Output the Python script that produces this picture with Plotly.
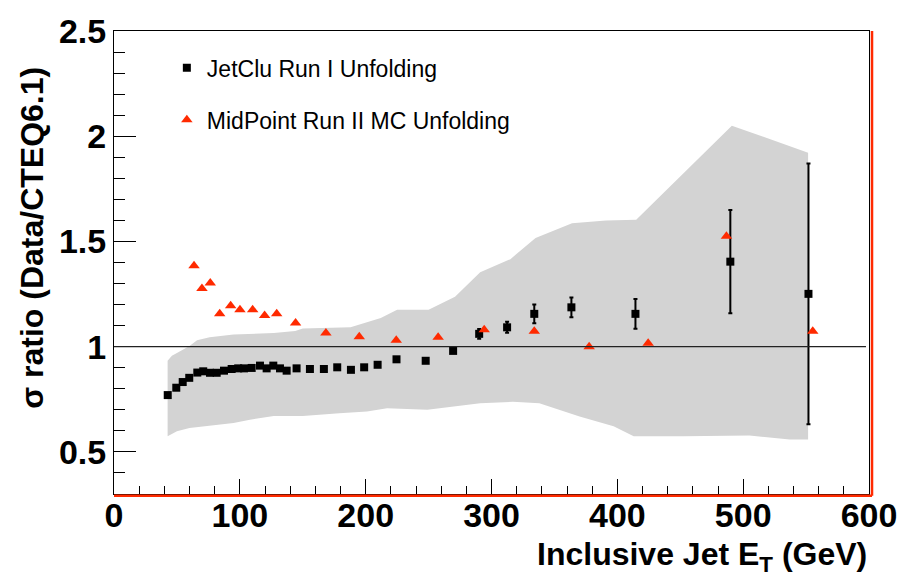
import plotly.graph_objects as go

# JetClu Run I unfolding: ratio data / CTEQ6.1 with statistical errors
jetclu_et = [42.7, 49.5, 54.6, 59.8, 66.2, 70.9, 76.3, 81.6, 87.4, 93.5, 98.7, 103.3,
             109.4, 116.0, 121.3, 126.6, 131.9, 137.2, 145.1, 155.7, 166.8, 177.4, 188.3,
             198.8, 209.5, 224.5, 247.7, 269.5, 290.2, 312.4, 334.0, 363.5, 414.4, 489.8, 551.9]
jetclu_ratio = [0.770, 0.805, 0.832, 0.852, 0.877, 0.883, 0.876, 0.876, 0.886, 0.894, 0.897, 0.897,
                0.899, 0.910, 0.897, 0.910, 0.897, 0.886, 0.897, 0.894, 0.894, 0.902, 0.890,
                0.902, 0.914, 0.940, 0.933, 0.980, 1.061, 1.092, 1.156, 1.187, 1.156, 1.404, 1.251]
jetclu_err = [0.003, 0.003, 0.003, 0.003, 0.003, 0.003, 0.003, 0.003, 0.003, 0.003, 0.003, 0.003,
              0.003, 0.003, 0.003, 0.003, 0.003, 0.003, 0.003, 0.003, 0.004, 0.004, 0.004,
              0.005, 0.005, 0.006, 0.008, 0.010, 0.023, 0.026, 0.045, 0.047, 0.071, 0.245, 0.620]

# MidPoint Run II MC unfolding
midpoint_et = [63.6, 69.9, 76.5, 84.0, 92.7, 100.1, 110.2, 119.7, 129.3, 144.3,
               168.4, 194.9, 224.3, 257.6, 294.2, 334.0, 377.6, 424.5, 486.7, 555.3]
midpoint_ratio = [1.385, 1.276, 1.302, 1.156, 1.195, 1.175, 1.175, 1.148, 1.156, 1.112,
                  1.065, 1.047, 1.030, 1.045, 1.081, 1.073, 1.000, 1.016, 1.525, 1.073]

# Systematic uncertainty band (upper and lower edges)
band_upper_et = [42.6, 46, 50, 56, 60, 66, 76, 95, 127, 144, 150, 188, 212, 225, 250,
                 271, 291, 315, 335, 364, 391, 415, 491, 551.6]
band_upper = [0.933, 0.957, 0.970, 0.990, 1.003, 1.030, 1.045, 1.058, 1.065, 1.075, 1.086,
              1.092, 1.136, 1.175, 1.175, 1.237, 1.354, 1.416, 1.517, 1.587, 1.600, 1.603,
              2.050, 1.922]
band_lower_et = [42.6, 50, 60, 76, 95, 108, 127, 150, 179, 201, 217, 249, 270, 291, 317,
                 338, 370, 397, 413, 452, 505, 521, 537, 551.6]
band_lower = [0.575, 0.598, 0.614, 0.625, 0.637, 0.653, 0.671, 0.671, 0.684, 0.692, 0.707,
              0.700, 0.715, 0.731, 0.738, 0.731, 0.668, 0.622, 0.575, 0.575, 0.578, 0.567,
              0.559, 0.559]

x_ticks = [0, 100, 200, 300, 400, 500, 600]
y_ticks = [0.5, 1, 1.5, 2, 2.5]

RED = "#ff2a00"
BAND = "#d3d3d3"
FONT = "Liberation Sans, Arial, sans-serif"

fig = go.Figure()

# closed polygon for the band: upper edge left->right, lower edge right->left
fig.add_trace(go.Scatter(
    x=band_upper_et + band_lower_et[::-1],
    y=band_upper + band_lower[::-1],
    fill="toself", fillcolor=BAND, mode="lines",
    line=dict(width=0, color=BAND), hoverinfo="skip", showlegend=False,
))

fig.add_trace(go.Scatter(
    x=jetclu_et, y=jetclu_ratio, mode="markers",
    name="JetClu Run I Unfolding",
    marker=dict(symbol="square", size=8, color="black"),
    error_y=dict(type="data", array=jetclu_err, color="black", thickness=2, width=2),
    legendgroup="a",
))

fig.add_trace(go.Scatter(
    x=midpoint_et, y=midpoint_ratio, mode="markers",
    name="MidPoint Run II MC Unfolding",
    marker=dict(symbol="triangle-up", size=10, color=RED),
    legendgroup="b",
))

# reference line at ratio = 1
fig.add_shape(type="line", xref="x domain", yref="y", x0=0, x1=0.996, y0=1, y1=1,
              line=dict(color="#222222", width=1.3), layer="above")
# red frame edges on the bottom and right
fig.add_shape(type="line", xref="x domain", yref="y domain", x0=0, x1=1.004, y0=-0.004, y1=-0.004,
              line=dict(color=RED, width=2.5), layer="above")
fig.add_shape(type="line", xref="x domain", yref="y domain", x0=1.004, x1=1.004, y0=-0.004, y1=1,
              line=dict(color=RED, width=2.5), layer="above")

tick_font = dict(family=FONT, size=34, color="black", weight="bold")

fig.update_xaxes(
    range=[0, 600], tickvals=x_ticks, ticktext=[str(v) for v in x_ticks],
    ticks="inside", ticklen=15, tickwidth=1, tickcolor="black",
    minor=dict(ticks="inside", ticklen=8, dtick=20, tickcolor="black", tickwidth=1, showgrid=False),
    showline=True, linecolor="black", linewidth=1, mirror=True,
    showgrid=False, zeroline=False, tickfont=tick_font, ticklabelstandoff=-9,
)
fig.update_yaxes(
    range=[0.3, 2.5], tickvals=y_ticks, ticktext=["0.5", "1", "1.5", "2", "2.5"],
    ticks="inside", ticklen=22, tickwidth=1, tickcolor="black",
    minor=dict(ticks="inside", ticklen=11, dtick=0.1, tickcolor="black", tickwidth=1, showgrid=False),
    showline=True, linecolor="black", linewidth=1, mirror=True,
    showgrid=False, zeroline=False, tickfont=tick_font,
)

title_font = dict(family=FONT, size=32, color="black", weight="bold")
fig.add_annotation(text="Inclusive Jet E<sub>T</sub> (GeV)", xref="paper", yref="paper",
                   x=1.0, y=-0.135, xanchor="right", yanchor="middle",
                   showarrow=False, font=title_font)
fig.add_annotation(text="σ ratio (Data/CTEQ6.1)", xref="paper", yref="paper",
                   x=-0.108, y=0.928, xanchor="center", yanchor="top", textangle=-90,
                   showarrow=False, font=title_font)

fig.update_layout(
    width=914, height=579,
    margin=dict(l=114, r=45, t=25, b=85),
    paper_bgcolor="white", plot_bgcolor="white",
    showlegend=True,
    legend=dict(x=0.07, y=0.967, xanchor="left", yanchor="top",
                bgcolor="rgba(0,0,0,0)", traceorder="grouped", tracegroupgap=19,
                font=dict(family=FONT, size=23, color="black")),
)

fig.write_html("out.html")
